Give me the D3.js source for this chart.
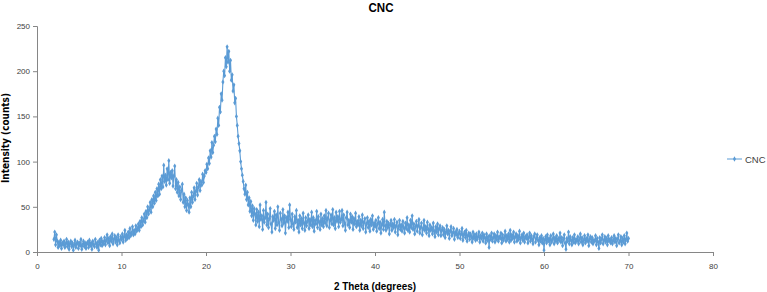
<!DOCTYPE html>
<html>
<head>
<meta charset="utf-8">
<script src="https://cdn.jsdelivr.net/npm/d3@7"></script>
<style>
  body { margin: 0; background: #fff; }
  text { font-family: "Liberation Sans", Arial, sans-serif; }
</style>
</head>
<body>
<svg id="chart" width="767" height="292"></svg>
<script>
// scan grid: 2 to 70 degrees, 0.1 step
var twoTheta = d3.range(0, 681).map(i => +(2 + i * 0.1).toFixed(1));

// intensity (counts), one row = 2 degrees
var intensity = [
  14, 22, 8, 19, 12, 5, 11, 7, 13, 4, 10, 8, 12, 5, 9, 14, 6, 11, 3, 9,
  12, 6, 10, 2, 8, 13, 5, 9, 11, 4, 10, 7, 14, 3, 8, 12, 6, 10, 4, 9,
  11, 5, 13, 7, 10, 3, 12, 8, 6, 14, 9, 5, 11, 2, 13, 8, 15, 7, 12, 9,
  16, 8, 13, 19, 10, 15, 7, 17, 12, 20, 9, 14, 18, 11, 16, 8, 19, 13, 10, 17,
  14, 20, 11, 17, 24, 13, 19, 15, 22, 16, 26, 18, 21, 28, 19, 24, 20, 29, 23, 26,
  31, 24, 34, 28, 38, 30, 35, 42, 33, 45, 38, 50, 42, 47, 55, 44, 58, 50, 62, 54,
  66, 57, 70, 62, 75, 64, 80, 70, 84, 72, 96, 78, 85, 74, 92, 80, 101, 76, 88, 82,
  90, 73, 84, 95, 70, 80, 66, 77, 62, 72, 58, 68, 75, 55, 64, 50, 60, 46, 57, 52,
  44, 60, 50, 66, 55, 62, 71, 58, 67, 76, 63, 72, 80, 68, 78, 74, 86, 77, 84, 90,
  88, 97, 92, 104, 98, 112, 105, 121, 110, 118, 128, 122, 136, 130, 148, 140, 160, 155, 175, 168,
  188, 200, 195, 215, 205, 227, 210, 222, 200, 212, 190, 196, 178, 185, 165, 170, 150, 140, 128, 120,
  112, 100, 92, 85, 78, 70, 64, 74, 58, 66, 52, 60, 45, 56, 40, 51, 35, 48, 42, 30,
  47, 34, 44, 28, 52, 36, 40, 25, 46, 33, 38, 55, 30, 42, 27, 37, 48, 31, 22, 39,
  35, 45, 26, 41, 30, 50, 33, 24, 43, 36, 29, 47, 32, 40, 21, 38, 34, 44, 27, 52,
  36, 28, 42, 31, 25, 39, 33, 46, 27, 35, 22, 40, 30, 37, 26, 43, 32, 24, 38, 29,
  34, 41, 26, 36, 30, 44, 28, 38, 23, 35, 31, 45, 27, 39, 33, 25, 42, 30, 37, 28,
  40, 32, 46, 29, 37, 43, 27, 35, 41, 31, 47, 30, 38, 26, 44, 34, 39, 28, 45, 33,
  36, 46, 29, 41, 32, 24, 38, 44, 30, 35, 27, 42, 33, 39, 25, 37, 31, 43, 28, 34,
  30, 39, 24, 35, 29, 41, 26, 33, 37, 22, 31, 38, 27, 34, 23, 36, 30, 40, 25, 32,
  28, 35, 23, 31, 38, 26, 33, 21, 30, 36, 25, 44, 29, 24, 34, 27, 32, 20, 30, 35,
  24, 31, 27, 36, 22, 29, 33, 19, 28, 35, 25, 30, 23, 34, 27, 21, 32, 26, 38, 24,
  30, 22, 35, 27, 40, 25, 31, 20, 28, 34, 23, 29, 36, 21, 27, 32, 19, 26, 35, 24,
  28, 21, 33, 25, 18, 30, 24, 27, 20, 32, 23, 17, 28, 22, 31, 19, 26, 29, 18, 24,
  27, 19, 25, 16, 22, 29, 20, 24, 15, 23, 28, 18, 21, 26, 14, 22, 19, 25, 16, 20,
  23, 15, 20, 26, 13, 19, 22, 16, 24, 12, 18, 21, 14, 20, 17, 11, 22, 15, 19, 13,
  20, 14, 17, 22, 11, 18, 15, 21, 12, 19, 16, 10, 20, 13, 17, 5, 18, 14, 21, 12,
  16, 20, 11, 18, 14, 22, 12, 17, 15, 21, 10, 19, 13, 16, 23, 12, 18, 14, 20, 11,
  24, 13, 19, 15, 22, 11, 17, 20, 12, 18, 14, 23, 10, 16, 19, 13, 21, 11, 17, 15,
  19, 10, 16, 21, 12, 18, 14, 9, 17, 20, 11, 15, 19, 13, 8, 16, 12, 18, 10, 15,
  2, 13, 17, 10, 19, 12, 15, 8, 18, 11, 14, 20, 9, 16, 12, 18, 10, 15, 13, 21,
  11, 16, 7, 14, 19, 10, 3, 15, 12, 22, 9, 17, 13, 8, 16, 11, 19, 10, 14, 12,
  17, 9, 14, 20, 11, 16, 8, 13, 18, 10, 15, 12, 19, 7, 14, 17, 11, 16, 9, 13,
  12, 18, 8, 15, 11, 4, 16, 10, 14, 19, 9, 13, 17, 11, 15, 8, 18, 12, 14, 10,
  16, 9, 13, 18, 11, 15, 7, 14, 19, 10, 12, 17, 8, 15, 11, 18, 9, 14, 21, 12,
  15
];

var xTicks = [0, 10, 20, 30, 40, 50, 60, 70, 80];
var yTicks = [0, 50, 100, 150, 200, 250];
var seriesName = "CNC";

var svg = d3.select("#chart");
var blue = "#5b9bd5";

var x = d3.scaleLinear().domain([0, 80]).range([37, 713]);
var y = d3.scaleLinear().domain([0, 250]).range([252, 26]);

var data = twoTheta.map((t, i) => ({ t: t, v: intensity[i] }));

// axes
var xAxis = svg.append("g")
  .attr("transform", "translate(0," + y(0) + ")")
  .call(d3.axisBottom(x).tickValues(xTicks).tickSize(4).tickPadding(7));
var yAxis = svg.append("g")
  .attr("transform", "translate(" + x(0) + ",0)")
  .call(d3.axisLeft(y).tickValues(yTicks).tickSize(4).tickPadding(3));

[xAxis, yAxis].forEach(g => {
  g.select(".domain").attr("stroke", "#868686");
  g.selectAll(".tick line").attr("stroke", "#868686");
  g.selectAll(".tick text").attr("font-size", "8px").attr("fill", "#404040")
    .style("font-family", "'Liberation Sans', Arial, sans-serif");
});

// series
var line = d3.line().x(d => x(d.t)).y(d => y(d.v));
svg.append("path")
  .datum(data)
  .attr("fill", "none")
  .attr("stroke", blue)
  .attr("stroke-width", 1.1)
  .attr("d", line);

var diamond = d3.symbol().type(d3.symbolDiamond).size(8);
svg.selectAll(".pt")
  .data(data)
  .enter()
  .append("path")
    .classed("pt", true)
    .attr("transform", d => "translate(" + x(d.t) + "," + y(d.v) + ")")
    .attr("d", diamond)
    .attr("fill", blue);

// titles
svg.append("text")
  .attr("x", 381).attr("y", 12)
  .attr("text-anchor", "middle")
  .attr("font-size", "12px").attr("font-weight", "bold")
  .attr("textLength", 25).attr("lengthAdjust", "spacingAndGlyphs")
  .text("CNC");

svg.append("text")
  .attr("x", 375).attr("y", 290)
  .attr("text-anchor", "middle")
  .attr("font-size", "11px").attr("font-weight", "bold")
  .attr("textLength", 82).attr("lengthAdjust", "spacingAndGlyphs")
  .text("2 Theta (degrees)");

svg.append("text")
  .attr("transform", "translate(9,138) rotate(-90)")
  .attr("text-anchor", "middle")
  .attr("font-size", "10px").attr("font-weight", "bold")
  .attr("textLength", 90).attr("lengthAdjust", "spacingAndGlyphs")
  .style("font-family", "'DejaVu Sans', sans-serif")
  .text("Intensity (counts)");

// legend
var lg = svg.append("g").attr("transform", "translate(727,159)");
lg.append("line").attr("x1", 0).attr("x2", 15)
  .attr("stroke", blue).attr("stroke-width", 1);
lg.append("path").attr("transform", "translate(7.5,0)").attr("d", diamond).attr("fill", blue);
lg.append("text").attr("x", 18).attr("y", 3.5)
  .attr("font-size", "9.5px").attr("fill", "#404040")
  .text(seriesName);
</script>
</body>
</html>
